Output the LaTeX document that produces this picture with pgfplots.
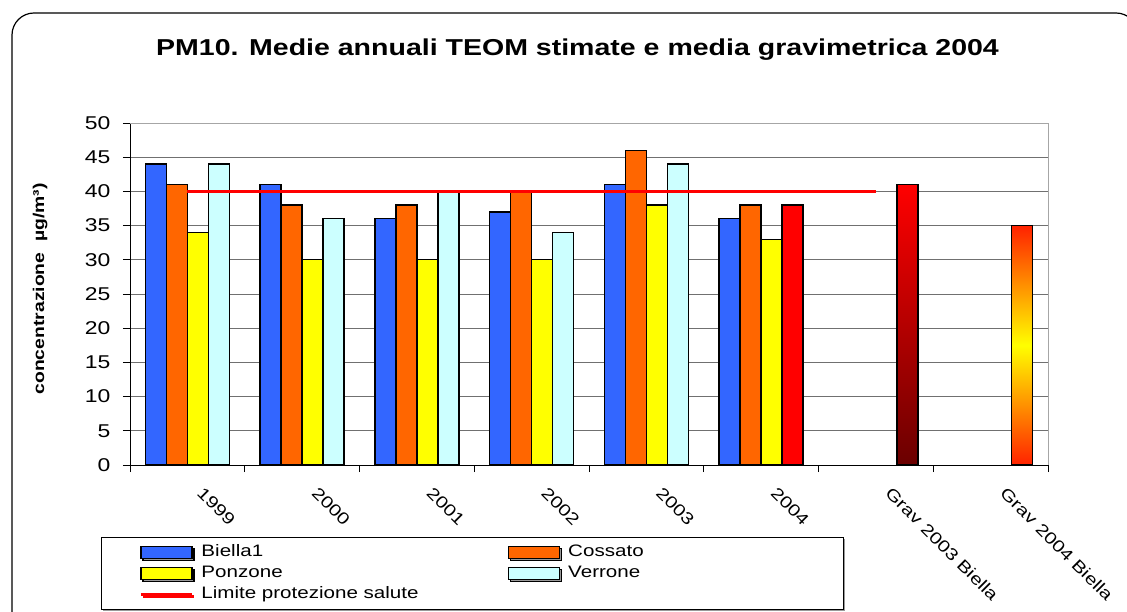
\documentclass[border=0pt]{standalone}
\usepackage{pgfplots}
\pgfplotsset{compat=1.18}
\usepackage{fontspec}
\setmainfont{Liberation Sans}[FakeStretch=1.24]
\usetikzlibrary{shadows}

\definecolor{cBiella}{HTML}{3366FF}
\definecolor{cCossato}{HTML}{FF6600}
\definecolor{cPonzone}{HTML}{FFFF00}
\definecolor{cVerrone}{HTML}{CCFFFF}
\definecolor{cLimite}{HTML}{FF0000}
\definecolor{cGravDark}{HTML}{6A0000}
\definecolor{cGravEdge}{HTML}{FF2200}
\definecolor{cGrid}{HTML}{707070}

\newcommand\fsz[1]{\fontsize{#1pt}{#1pt}\selectfont}

\begin{document}
\begin{tikzpicture}[x=1pt,y=1pt]
\useasboundingbox (0,0) rectangle (1127,611);
% rounded chart frame
\draw[line width=1.2pt, rounded corners=22pt] (12,-40) rectangle (1138,598);

\begin{axis}[
  at={(130pt,146pt)}, anchor=south west,
  scale only axis, width=918pt, height=342pt,
  xmin=-0.5, xmax=7.5, ymin=0, ymax=50,
  axis x line*=bottom, axis y line*=left,
  axis line style={-, black, line width=0.9pt},
  after end axis/.code={
    \draw[gray!70, line width=1pt] (rel axis cs:0,1) -- (rel axis cs:1,1) -- (rel axis cs:1,0);
  },
  ytick={0,5,...,50},
  ymajorgrids, major grid style={cGrid, line width=0.9pt},
  xtick={-0.5,0.5,...,7.5},
  x tick label as interval,
  xticklabels={1999,2000,2001,2002,2003,2004,Grav 2003 Biella,Grav 2004 Biella},
  tick align=outside, major tick length=7pt,
  tick style={black, line width=0.9pt},
  /pgf/number format/assume math mode=true,
  yticklabel style={font=\fsz{18.5}, anchor=east, xshift=-9pt},
  xticklabel style={font=\fsz{16.5}, xshift=17pt, yshift=-14pt, rotate=-45, anchor=north west, inner sep=0pt},
  title={PM10. Medie annuali TEOM stimate e media gravimetrica 2004},
  title style={font=\bfseries\fsz{23}, at={(axis description cs:0.4875,1.198)}, anchor=center},
  ylabel={concentrazione \ µg/m³)},
  ylabel style={font=\bfseries\fsz{15.6}, at={(axis description cs:-0.098,0.515)}, anchor=center},
  legend columns=2,
  legend cell align=left,
  legend style={
    at={(axis description cs:-0.0321,-0.2105)}, anchor=north west,
    draw=black, line width=0.9pt, fill=white,
    drop shadow={shadow xshift=2pt, shadow yshift=-2pt, fill=gray!80, opacity=1},
    inner xsep=28pt, inner ysep=5pt, row sep=1pt,
    font=\fsz{16.6},
    nodes={text height=12pt, text depth=4pt},
    /tikz/column 1/.style={column sep=6pt},
    /tikz/column 2/.style={column sep=39pt, nodes={text width=255pt}},
    /tikz/column 3/.style={column sep=6pt},
    /tikz/column 4/.style={nodes={text width=245pt}},
  },
  barleg/.style={legend image code/.code={\path (0pt,0pt); \draw[##1,/tikz/.cd,line width=1.2pt] (10.5pt,-6pt) rectangle (61.5pt,6pt);}},
  lineleg/.style={legend image code/.code={\path (0pt,0pt); \draw[##1,/tikz/.cd] (10.5pt,0pt) -- (61.5pt,0pt);}},
  bars/.style={ybar, bar width=21pt, draw=black, line width=1.3pt},
]

% stations, years 1999-2004
\addplot[bars, bar shift=-31.5pt, fill=cBiella, barleg]
  coordinates {(0,44) (1,41) (2,36) (3,37) (4,41) (5,36)};
\addlegendentry{Biella1}
\addplot[bars, bar shift=-10.5pt, fill=cCossato, barleg]
  coordinates {(0,41) (1,38) (2,38) (3,40) (4,46) (5,38)};
\addlegendentry{Cossato}
\addplot[bars, bar shift=10.5pt, fill=cPonzone, barleg]
  coordinates {(0,34) (1,30) (2,30) (3,30) (4,38) (5,33)};
\addlegendentry{Ponzone}
\addplot[bars, bar shift=31.5pt, fill=cVerrone, barleg]
  coordinates {(0,44) (1,36) (2,40) (3,34) (4,44)};
\addlegendentry{Verrone}

% health protection limit
\addplot[cLimite, line width=3pt, no marks, lineleg]
  coordinates {(0,40) (1,40) (2,40) (3,40) (4,40) (5,40) (6,40)};
\addlegendentry{Limite protezione salute}

% 2004 value and gravimetric means
\addplot[bars, bar shift=31.5pt, fill=red, forget plot]
  coordinates {(5,38)};
\addplot[bars, bar shift=31.5pt, top color=red, bottom color=cGravDark, forget plot]
  coordinates {(6,41)};
\addplot[bars, bar shift=31.5pt, top color=cGravEdge, bottom color=cGravEdge, middle color=cPonzone, forget plot]
  coordinates {(7,35)};
\end{axis}
\end{tikzpicture}
\end{document}
